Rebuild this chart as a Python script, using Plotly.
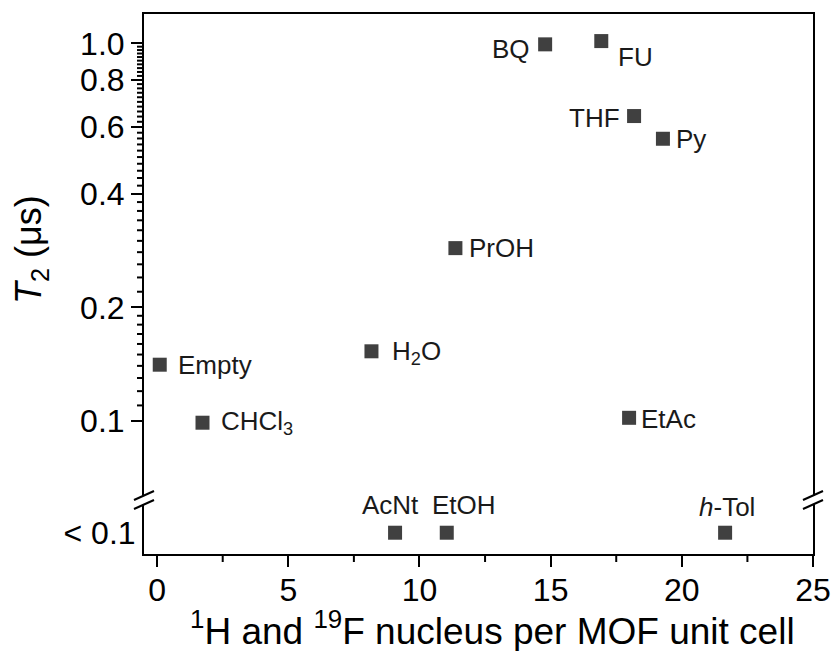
import plotly.graph_objects as go
import numpy as np

# ---------------- data ----------------
upper_names = ["Empty", "CHCl<sub>3</sub>", "H<sub>2</sub>O", "PrOH", "BQ", "FU", "THF", "Py", "EtAc"]
upper_nuclei = [0.1, 1.73, 8.17, 11.37, 14.79, 16.93, 18.18, 19.28, 17.99]
upper_t2 = [0.141, 0.099, 0.153, 0.287, 0.994, 1.014, 0.642, 0.559, 0.102]

lower_names = ["AcNt", "EtOH", "<i>h</i>-Tol"]
lower_nuclei = [9.07, 11.04, 21.65]
lower_t2 = ["< 0.1", "< 0.1", "< 0.1"]

y_major_vals = [0.1, 0.2, 0.4, 0.6, 0.8, 1.0]
y_major_text = ["0.1", "0.2", "0.4", "0.6", "0.8", "1.0"]
y_minor_vals = ([round(0.11 + 0.01 * i, 2) for i in range(9)] +
                [round(0.22 + 0.02 * i, 2) for i in range(9)] +
                [round(0.42 + 0.02 * i, 2) for i in range(9)] +
                [round(0.62 + 0.02 * i, 2) for i in range(9)] +
                [round(0.82 + 0.02 * i, 2) for i in range(9)])
x_minor_vals = [2.5, 7.5, 12.5, 17.5, 22.5]

# ---------------- label placement (style) ----------------
upper_label_place = [
    ("left", 16, 0), ("left", 16, 0), ("left", 19, -1), ("left", 12, 0), ("right", -13, -5),
    ("left", 15, -16), ("right", -12, -2), ("left", 11, 0), ("left", 10, -1),
]
lower_label_place = [(-5, 28), (17, 28), (2, 26)]

FONT = "Liberation Sans, Arial, sans-serif"
MARK = "#404040"
TXT = "#1a1a1a"

W, H = 835, 651
L, R, T, B = 144, 22, 14, 97
plot_w = W - L - R
plot_h = H - T - B
split = 54 / plot_h  # bottom panel height fraction

top_log = np.log10(1.196)
span = (1 - split) * plot_h / 377.7
y2_range = [top_log - span, top_log]
x_range = [-0.5, 25]

fig = go.Figure()

fig.add_trace(go.Scatter(
    x=upper_nuclei, y=upper_t2, mode="markers",
    marker=dict(symbol="square", size=14, color=MARK, line=dict(width=0)),
    xaxis="x2", yaxis="y2", showlegend=False, cliponaxis=False))
fig.add_trace(go.Scatter(
    x=lower_nuclei, y=lower_t2, mode="markers",
    marker=dict(symbol="square", size=14, color=MARK, line=dict(width=0)),
    xaxis="x", yaxis="y", showlegend=False, cliponaxis=False))

annotations = []
for name, xv, yv, (anc, dx, dy) in zip(upper_names, upper_nuclei, upper_t2, upper_label_place):
    annotations.append(dict(x=xv, y=np.log10(yv), xref="x2", yref="y2", text=name, showarrow=False,
                            xanchor=anc, yanchor="middle", xshift=dx, yshift=dy,
                            font=dict(family=FONT, size=26, color=TXT)))
for name, xv, yv, (dx, dy) in zip(lower_names, lower_nuclei, lower_t2, lower_label_place):
    annotations.append(dict(x=xv, y=yv, xref="x", yref="y", text=name, showarrow=False,
                            xanchor="center", yanchor="middle", xshift=dx, yshift=dy,
                            font=dict(family=FONT, size=26, color=TXT)))

# axis titles
annotations.append(dict(x=(31 - L) / plot_w, y=(H - B - 250) / plot_h, xref="paper", yref="paper",
                        text="<i>T</i><sub>2</sub> (μs)", textangle=-90, showarrow=False,
                        xanchor="center", yanchor="middle",
                        font=dict(family=FONT, size=36, color="black")))
annotations.append(dict(x=(188 - L) / plot_w, y=-(628 - (H - B)) / plot_h, xref="paper", yref="paper",
                        text="<sup>1</sup>H and <sup>19</sup>F nucleus per MOF unit cell", showarrow=False,
                        xanchor="left", yanchor="middle",
                        font=dict(family=FONT, size=37, color="black")))

ax_line = dict(showline=True, linecolor="black", linewidth=2)

fig.update_layout(
    width=W, height=H, margin=dict(l=L, r=R, t=T, b=B, pad=0, autoexpand=False),
    paper_bgcolor="white", plot_bgcolor="white",
    font=dict(family=FONT, color="black"),
    xaxis=dict(domain=[0, 1], anchor="y", range=x_range, tickmode="linear", tick0=0, dtick=5,
               ticks="outside", ticklen=11, tickwidth=2, tickcolor="black", ticklabelstandoff=-4,
               tickfont=dict(size=32), showgrid=False, zeroline=False, **ax_line),
    yaxis=dict(domain=[0, split], anchor="x", type="category", range=[-0.394, 0.606],
               ticks="", tickfont=dict(size=32), showgrid=False, zeroline=False,
               mirror=True, **ax_line),
    xaxis2=dict(domain=[0, 1], anchor="y2", matches="x", side="top", showticklabels=False,
                ticks="", showgrid=False, zeroline=False, **ax_line),
    yaxis2=dict(domain=[split, 1], anchor="x2", type="log", range=y2_range,
                tickvals=y_major_vals, ticktext=y_major_text,
                ticks="outside", ticklen=11, tickwidth=2, tickcolor="black",
                tickfont=dict(size=32), showgrid=False, zeroline=False,
                mirror=True, **ax_line),
    annotations=annotations,
)


def y2_to_paper(v):
    # map a value through the y2 log scale onto paper coordinates
    frac = (np.log10(v) - y2_range[0]) / (y2_range[1] - y2_range[0])
    return float(split + (1 - split) * frac)


def x_to_paper(v):
    return float((v - x_range[0]) / (x_range[1] - x_range[0]))


shapes = []
# minor ticks of the log y axis
for v in y_minor_vals:
    yp = y2_to_paper(v)
    shapes.append(dict(type="line", xref="paper", yref="paper", x0=-7 / plot_w, x1=-1 / plot_w,
                       y0=yp, y1=yp, line=dict(color="black", width=2), layer="above"))
# minor ticks of the x axis
for v in x_minor_vals:
    xp = x_to_paper(v)
    shapes.append(dict(type="line", xref="paper", yref="paper", x0=xp, x1=xp,
                       y0=-1 / plot_h, y1=-8 / plot_h, line=dict(color="black", width=2), layer="above"))
# axis-break marks (left and right)
for xp in (0, 1):
    shapes.append(dict(type="rect", xref="paper", yref="paper",
                       x0=xp - 3 / plot_w, x1=xp + 3 / plot_w,
                       y0=split - 4.5 / plot_h, y1=split + 4.5 / plot_h,
                       fillcolor="white", line=dict(width=0), layer="above"))
    for dy in (-4.5, 4.5):
        shapes.append(dict(type="line", xref="paper", yref="paper",
                           x0=xp - 10 / plot_w, x1=xp + 10 / plot_w,
                           y0=split + (dy - 4.5) / plot_h, y1=split + (dy + 4.5) / plot_h,
                           line=dict(color="black", width=2), layer="above"))
fig.update_layout(shapes=shapes)

fig.write_html("out.html")
